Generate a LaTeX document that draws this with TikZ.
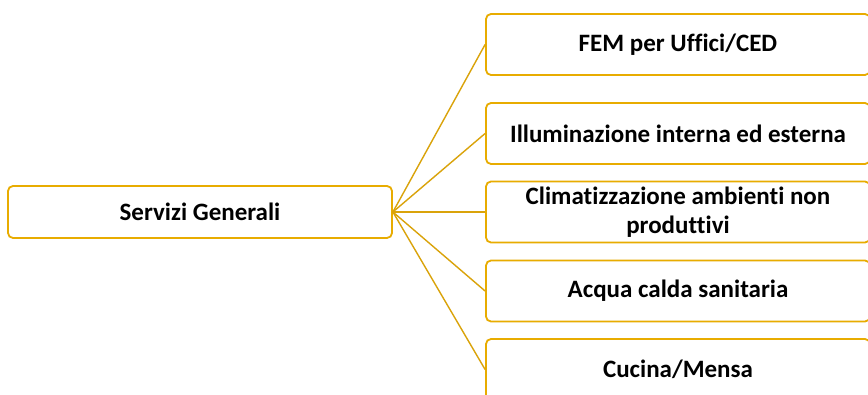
\documentclass[tikz,border=0pt]{standalone}
\usepackage{fontspec}
\setmainfont[Ligatures=NoCommon]{Carlito}
\usepackage{tikz}

\definecolor{gold}{RGB}{232,172,0}
\definecolor{goldline}{RGB}{218,163,10}

\begin{document}
\begin{tikzpicture}[
x=1pt, y=-1pt, % one unit = one pixel of the slide
box/.style={draw=gold, line width=1.8pt, rounded corners=5pt, fill=white,
  minimum width=384pt, font=\fontsize{25}{29}\selectfont\bfseries,
  align=center, inner sep=2pt},
link/.style={draw=goldline, line width=1.4pt}
]

% ================= Frame =================
\clip (0, 0) rectangle (868, 395);
\fill[white] (0, 0) rectangle (868, 395);

% ================= Nodes =================
% Root on the left
\node[box, minimum height=52pt] (Servizi) at (200, 212) {Servizi Generali};

% Branches on the right, cut by the slide edge
\node[box, minimum height=61pt] (FEM) at (678, 44.5) {FEM per Uffici/CED};
\node[box, minimum height=61pt] (Illum) at (678, 133.5) {Illuminazione interna ed esterna};
\node[box, minimum height=61pt] (Clima) at (678, 212) {Climatizzazione ambienti non\\produttivi};
\node[box, minimum height=61pt] (Acqua) at (678, 291) {Acqua calda sanitaria};
\node[box, minimum height=61pt] (Cucina) at (678, 369.5) {Cucina/Mensa};

% ================= Edges =================
\draw[link] (Servizi.east) -- (FEM.west);
\draw[link] (Servizi.east) -- (Illum.west);
\draw[link] (Servizi.east) -- (Clima.west);
\draw[link] (Servizi.east) -- (Acqua.west);
\draw[link] (Servizi.east) -- (Cucina.west);

\end{tikzpicture}
\end{document}
